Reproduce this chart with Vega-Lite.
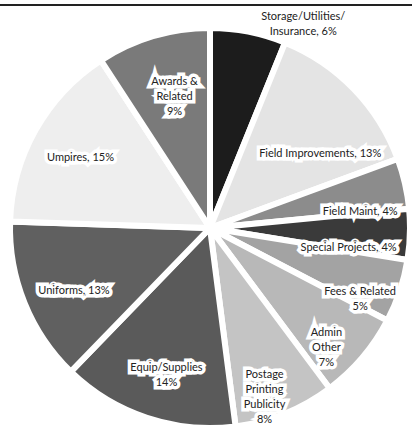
{
  "$schema": "https://vega.github.io/schema/vega-lite/v6.json",
  "width": 420,
  "height": 446,
  "autosize": "none",
  "padding": {"left": 0, "right": 0, "top": 5, "bottom": 0},
  "background": "white",
  "config": {"view": {"stroke": null}, "text": {"font": "Lato", "fontSize": 11, "lineHeight": 15, "lineBreak": "\n", "baseline": "middle", "align": "center"}},
  "datasets": {
    "frame": [{"edge": "top", "v": 1}],
    "slices": [
      {"k": 1, "cat": "Storage/Utilities/Insurance", "pct": 6, "label": "Storage/Utilities/\nInsurance, 6%"},
      {"k": 2, "cat": "Field Improvements", "pct": 13, "label": "Field Improvements, 13%"},
      {"k": 3, "cat": "Field Maint", "pct": 4, "label": "Field Maint, 4%"},
      {"k": 4, "cat": "Special Projects", "pct": 4, "label": "Special Projects, 4%"},
      {"k": 5, "cat": "Fees & Related", "pct": 5, "label": "Fees & Related\n5%"},
      {"k": 6, "cat": "Admin Other", "pct": 7, "label": "Admin\nOther\n7%"},
      {"k": 7, "cat": "Postage Printing Publicity", "pct": 8, "label": "Postage\nPrinting\nPublicity\n8%"},
      {"k": 8, "cat": "Equip/Supplies", "pct": 14, "label": "Equip/Supplies\n14%"},
      {"k": 9, "cat": "Uniforms", "pct": 13, "label": "Uniforms, 13%"},
      {"k": 10, "cat": "Umpires", "pct": 15, "label": "Umpires, 15%"},
      {"k": 11, "cat": "Awards & Related", "pct": 9, "label": "Awards &\nRelated\n9%"}
    ]
  },
  "layer": [
    {"data": {"name": "frame"}, "mark": {"type": "rule", "color": "#222222", "strokeWidth": 2},
     "encoding": {"y": {"field": "v", "type": "quantitative", "scale": {"domain": [0, 1]}, "axis": null}}},
    {
      "data": {"name": "slices"},
      "encoding": {
        "theta": {"field": "pct", "type": "quantitative", "stack": true},
        "order": {"field": "k", "type": "quantitative"}
      },
      "layer": [
        {
          "mark": {"type": "arc", "outerRadius": 200, "stroke": "white", "strokeWidth": 6},
          "encoding": {
            "color": {"field": "cat", "type": "nominal", "legend": null,
              "scale": {"domain": ["Storage/Utilities/Insurance","Field Improvements","Field Maint","Special Projects","Fees & Related","Admin Other","Postage Printing Publicity","Equip/Supplies","Uniforms","Umpires","Awards & Related"],
                        "range": ["#1c1c1c","#e4e4e4","#8c8c8c","#3a3a3a","#a3a3a3","#b8b8b8","#c4c4c4","#5a5a5a","#606060","#eeeeee","#7a7a7a"]}}
          }
        },
        {"mark": {"type": "text", "radius": 150, "thetaOffset": 0.05, "stroke": "white", "strokeWidth": 7, "strokeJoin": "miter"},
         "encoding": {"text": {"field": "label"}, "opacity": {"condition": {"test": "datum.cat == 'Awards & Related'", "value": 1}, "value": 0}}},
        {"mark": {"type": "text", "radius": 150, "thetaOffset": 0.05, "color": "#222222"},
         "encoding": {"text": {"field": "label"}, "opacity": {"condition": {"test": "datum.cat == 'Awards & Related'", "value": 1}, "value": 0}}},
        {"mark": {"type": "text", "radius": 147, "thetaOffset": -0.02, "stroke": "white", "strokeWidth": 7, "strokeJoin": "miter"},
         "encoding": {"text": {"field": "label"}, "opacity": {"condition": {"test": "indexof(['Umpires','Equip/Supplies'], datum.cat) >= 0", "value": 1}, "value": 0}}},
        {"mark": {"type": "text", "radius": 147, "thetaOffset": -0.02, "color": "#222222"},
         "encoding": {"text": {"field": "label"}, "opacity": {"condition": {"test": "indexof(['Umpires','Equip/Supplies'], datum.cat) >= 0", "value": 1}, "value": 0}}},
        {"mark": {"type": "text", "radius": 150, "thetaOffset": -0.05, "stroke": "white", "strokeWidth": 7, "strokeJoin": "miter"},
         "encoding": {"text": {"field": "label"}, "opacity": {"condition": {"test": "datum.cat == 'Uniforms'", "value": 1}, "value": 0}}},
        {"mark": {"type": "text", "radius": 150, "thetaOffset": -0.05, "color": "#222222"},
         "encoding": {"text": {"field": "label"}, "opacity": {"condition": {"test": "datum.cat == 'Uniforms'", "value": 1}, "value": 0}}},
        {"mark": {"type": "text", "radius": 157, "thetaOffset": 0.03, "stroke": "white", "strokeWidth": 7, "strokeJoin": "miter"},
         "encoding": {"text": {"field": "label"}, "opacity": {"condition": {"test": "indexof(['Postage Printing Publicity','Admin Other'], datum.cat) >= 0", "value": 1}, "value": 0}}},
        {"mark": {"type": "text", "radius": 157, "thetaOffset": 0.03, "color": "#222222"},
         "encoding": {"text": {"field": "label"}, "opacity": {"condition": {"test": "indexof(['Postage Printing Publicity','Admin Other'], datum.cat) >= 0", "value": 1}, "value": 0}}},
        {"mark": {"type": "text", "radius": 163, "thetaOffset": 0.08, "stroke": "white", "strokeWidth": 7, "strokeJoin": "miter"},
         "encoding": {"text": {"field": "label"}, "opacity": {"condition": {"test": "datum.cat == 'Fees & Related'", "value": 1}, "value": 0}}},
        {"mark": {"type": "text", "radius": 163, "thetaOffset": 0.08, "color": "#222222"},
         "encoding": {"text": {"field": "label"}, "opacity": {"condition": {"test": "datum.cat == 'Fees & Related'", "value": 1}, "value": 0}}},
        {"mark": {"type": "text", "radius": 151, "thetaOffset": 0.12, "stroke": "white", "strokeWidth": 7, "strokeJoin": "miter"},
         "encoding": {"text": {"field": "label"}, "opacity": {"condition": {"test": "datum.cat == 'Field Maint'", "value": 1}, "value": 0}}},
        {"mark": {"type": "text", "radius": 151, "thetaOffset": 0.12, "color": "#222222"},
         "encoding": {"text": {"field": "label"}, "opacity": {"condition": {"test": "datum.cat == 'Field Maint'", "value": 1}, "value": 0}}},
        {"mark": {"type": "text", "radius": 140, "thetaOffset": 0.11, "stroke": "white", "strokeWidth": 7, "strokeJoin": "miter"},
         "encoding": {"text": {"field": "label"}, "opacity": {"condition": {"test": "datum.cat == 'Special Projects'", "value": 1}, "value": 0}}},
        {"mark": {"type": "text", "radius": 140, "thetaOffset": 0.11, "color": "#222222"},
         "encoding": {"text": {"field": "label"}, "opacity": {"condition": {"test": "datum.cat == 'Special Projects'", "value": 1}, "value": 0}}},
        {"mark": {"type": "text", "radius": 133, "thetaOffset": 0.175, "stroke": "white", "strokeWidth": 7, "strokeJoin": "miter"},
         "encoding": {"text": {"field": "label"}, "opacity": {"condition": {"test": "datum.cat == 'Field Improvements'", "value": 1}, "value": 0}}},
        {"mark": {"type": "text", "radius": 133, "thetaOffset": 0.175, "color": "#222222"},
         "encoding": {"text": {"field": "label"}, "opacity": {"condition": {"test": "datum.cat == 'Field Improvements'", "value": 1}, "value": 0}}},
        {"mark": {"type": "text", "radius": 231, "thetaOffset": 0.223, "color": "#222222"},
         "encoding": {"text": {"field": "label"}, "opacity": {"condition": {"test": "datum.cat == 'Storage/Utilities/Insurance'", "value": 1}, "value": 0}}}
      ]
    }
  ]
}
